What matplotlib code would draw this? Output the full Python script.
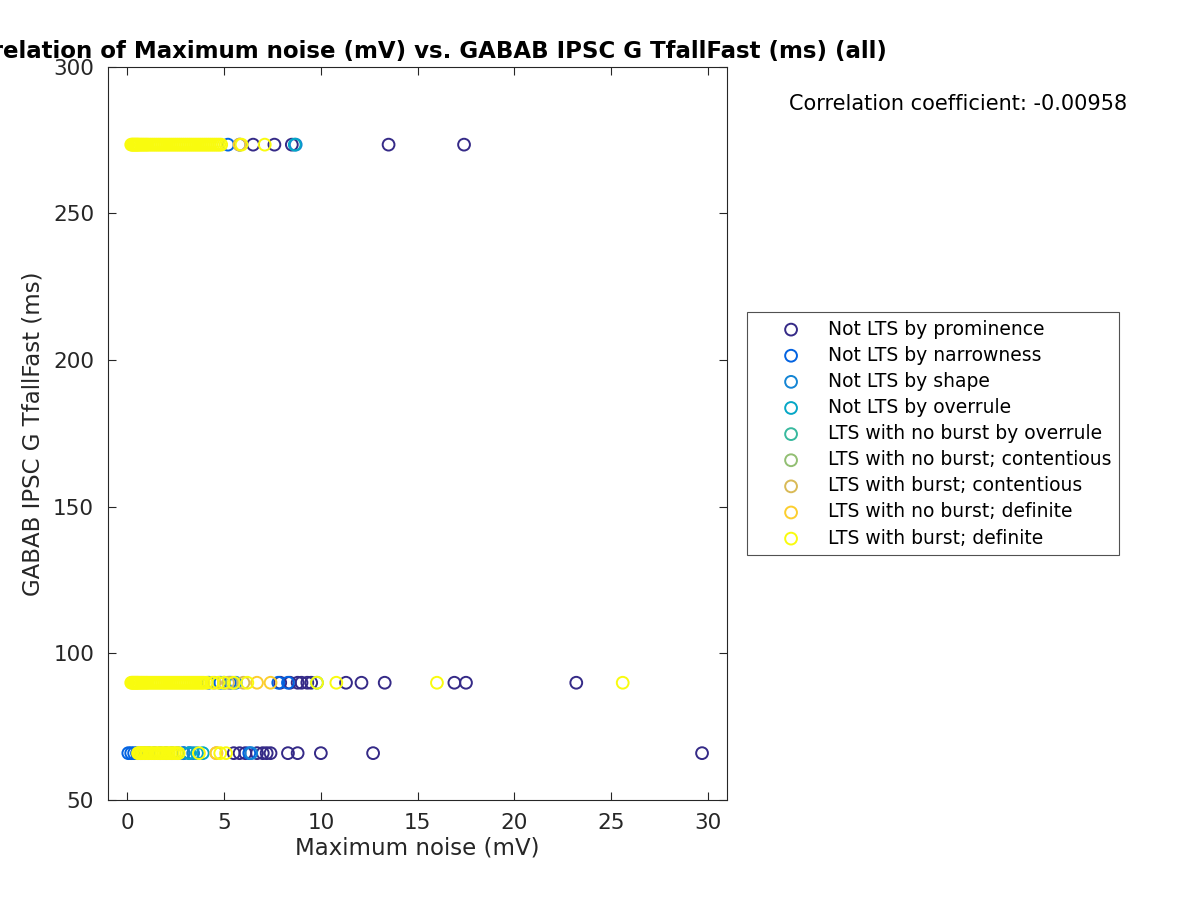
import matplotlib
matplotlib.use("Agg")
import matplotlib.pyplot as plt

# categories and parula-like colours
categories = ["Not LTS by prominence", "Not LTS by narrowness", "Not LTS by shape",
              "Not LTS by overrule", "LTS with no burst by overrule",
              "LTS with no burst; contentious", "LTS with burst; contentious",
              "LTS with no burst; definite", "LTS with burst; definite"]
colors = ["#352a87", "#0363e1", "#1485d4", "#06a7c6", "#38b99e",
          "#92bf73", "#d9ba56", "#fcce2e", "#f9fb0e"]

# x = maximum noise (mV), y = GABAB IPSC G TfallFast (ms)
x_prominence = [6.5, 7.6, 8.5, 13.5, 17.4,
                7.9, 8.4, 8.8, 9.0, 9.3, 9.5, 11.3, 12.1, 13.3, 16.9, 17.5, 23.2,
                5.5, 5.8, 6.1, 6.7, 7.0, 7.2, 7.4, 8.3, 8.8, 10.0, 12.7, 29.7]
y_prominence = [273.4, 273.4, 273.4, 273.4, 273.4,
                90, 90, 90, 90, 90, 90, 90, 90, 90, 90, 90, 90,
                66, 66, 66, 66, 66, 66, 66, 66, 66, 66, 66, 66]

x_narrowness = [5.2, 5.8,
                4.2, 4.8, 5.3, 7.8, 8.3,
                0.05, 0.2, 0.35, 0.5, 0.7, 0.9, 1.1, 1.4, 1.7, 2.0, 2.3, 2.6, 2.9, 3.2, 6.3]
y_narrowness = [273.4, 273.4,
                90, 90, 90, 90, 90,
                66, 66, 66, 66, 66, 66, 66, 66, 66, 66, 66, 66, 66, 66, 66]

x_shape = [8.7, 5.0, 5.6, 2.9, 3.4, 6.4]
y_shape = [273.4, 90, 90, 66, 66, 66]

x_overrule = [8.65, 3.2, 3.6, 3.9]
y_overrule = [273.4, 66, 66, 66]

x_nb_overrule = [9.8]
y_nb_overrule = [90]

x_nb_contentious = [5.4]
y_nb_contentious = [90]

x_b_contentious = [4.5, 5.2, 6.0, 4.6]
y_b_contentious = [90, 90, 90, 66]

x_nb_definite = [5.8, 6.7, 7.4, 4.6]
y_nb_definite = [273.4, 90, 90, 66]

x_b_definite = [0.2, 0.25, 0.3, 0.35, 0.4, 0.45, 0.5, 0.55, 0.6, 0.68, 0.75, 0.82, 0.9, 0.98,
                1.05, 1.15, 1.25, 1.35, 1.45, 1.55, 1.65, 1.75, 1.85, 1.95, 2.05, 2.15, 2.25,
                2.35, 2.45, 2.55, 2.65, 2.75, 2.85, 2.95, 3.05, 3.15, 3.25, 3.35, 3.45, 3.55,
                3.65, 3.75, 3.85, 3.95, 4.05, 4.15, 4.25, 4.35, 4.45, 4.55, 4.65, 4.75, 4.85,
                5.9, 7.1,
                0.2, 0.25, 0.3, 0.35, 0.4, 0.45, 0.5, 0.55, 0.6, 0.68, 0.75, 0.82, 0.9, 0.98,
                1.05, 1.15, 1.25, 1.35, 1.45, 1.55, 1.65, 1.75, 1.85, 1.95, 2.05, 2.15, 2.25,
                2.35, 2.45, 2.55, 2.65, 2.75, 2.85, 2.95, 3.05, 3.15, 3.25, 3.35, 3.45, 3.55,
                3.65, 3.75, 3.85, 3.95, 4.1, 4.4, 4.7, 5.0, 5.5, 6.2, 9.8, 10.8, 16.0, 25.6,
                0.55, 0.6, 0.68, 0.75, 0.82, 0.9, 0.98, 1.05, 1.15, 1.25, 1.35, 1.45, 1.55,
                1.65, 1.75, 1.85, 1.95, 2.05, 2.15, 2.25, 2.35, 2.45, 2.55, 2.65, 3.7, 4.8, 5.1]
y_b_definite = [273.4] * 55 + [90] * 54 + [66] * 27

xs = [x_prominence, x_narrowness, x_shape, x_overrule, x_nb_overrule,
      x_nb_contentious, x_b_contentious, x_nb_definite, x_b_definite]
ys = [y_prominence, y_narrowness, y_shape, y_overrule, y_nb_overrule,
      y_nb_contentious, y_b_contentious, y_nb_definite, y_b_definite]

fig = plt.figure(figsize=(12, 9), dpi=100)
ax = fig.add_axes([0.09, 0.111, 0.516, 0.815])

for x, y, c, lab in zip(xs, ys, colors, categories):
    ax.scatter(x, y, s=72, facecolors="none", edgecolors=c, linewidths=1.4, label=lab)

ax.set_xlim(-1, 31)
ax.set_ylim(50, 300)
ax.set_xticks([0, 5, 10, 15, 20, 25, 30])
ax.set_yticks([50, 100, 150, 200, 250, 300])
ax.tick_params(direction="in", top=True, right=True, length=6, labelsize=15.5,
               colors="#262626", labelcolor="#262626")
ax.tick_params(axis="x", pad=9)
ax.tick_params(axis="y", pad=10)
for sp in ax.spines.values():
    sp.set_color("#262626")
ax.set_xlabel("Maximum noise (mV)", fontsize=16.5, color="#262626", labelpad=3)
ax.set_ylabel("GABAB IPSC G TfallFast (ms)", fontsize=16.5, color="#262626", labelpad=6)
ax.set_title("Correlation of Maximum noise (mV) vs. GABAB IPSC G TfallFast (ms) (all)",
             fontsize=16.5, fontweight="bold", pad=6)

fig.text(0.939, 0.884, "Correlation coefficient: -0.00958", fontsize=15, ha="right",
         va="center")

leg = fig.legend(loc="upper left", bbox_to_anchor=(0.6225, 0.6533), fontsize=13.5,
                 frameon=True, fancybox=False, edgecolor="#262626", borderpad=0.4,
                 labelspacing=0.38, handlelength=3.9, handletextpad=0.0, borderaxespad=0)
leg.get_frame().set_linewidth(0.8)

fig.savefig("out.png", dpi=100)
